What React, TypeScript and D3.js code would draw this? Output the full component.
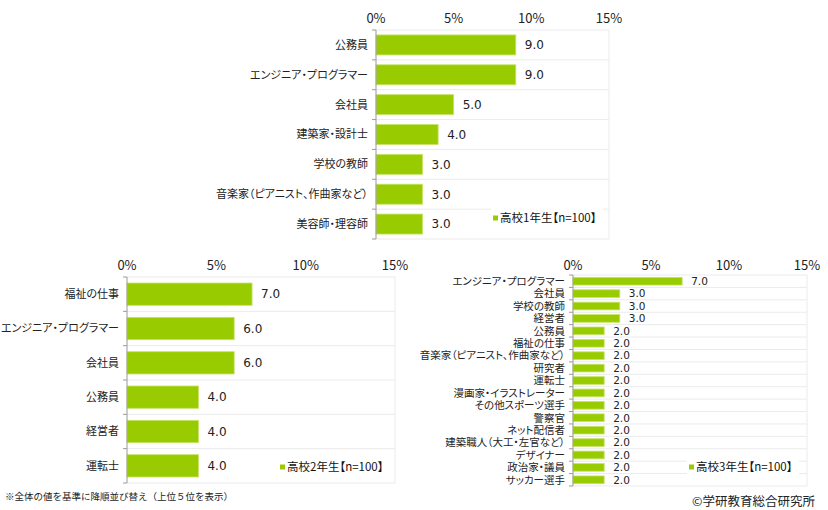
import React from 'react';
import * as d3 from 'd3';

// data
const ticks = [0, 5, 10, 15];

const grade1Categories = [
    '公務員',
    'エンジニア・プログラマー',
    '会社員',
    '建築家・設計士',
    '学校の教師',
    '音楽家（ピアニスト、作曲家など）',
    '美容師・理容師',
];
const grade1Values = [9.0, 9.0, 5.0, 4.0, 3.0, 3.0, 3.0];

const grade2Categories = [
    '福祉の仕事',
    'エンジニア・プログラマー',
    '会社員',
    '公務員',
    '経営者',
    '運転士',
];
const grade2Values = [7.0, 6.0, 6.0, 4.0, 4.0, 4.0];

const grade3Categories = [
    'エンジニア・プログラマー',
    '会社員',
    '学校の教師',
    '経営者',
    '公務員',
    '福祉の仕事',
    '音楽家（ピアニスト、作曲家など）',
    '研究者',
    '運転士',
    '漫画家・イラストレーター',
    'その他スポーツ選手',
    '警察官',
    'ネット配信者',
    '建築職人（大工・左官など）',
    'デザイナー',
    '政治家・議員',
    'サッカー選手',
];
const grade3Values = [7.0, 3.0, 3.0, 3.0, 2.0, 2.0, 2.0, 2.0, 2.0, 2.0, 2.0, 2.0, 2.0, 2.0, 2.0, 2.0, 2.0];

const BAR = '#99cc00';
const FONT = '"Noto Sans CJK JP", "Noto Sans", sans-serif';
const NUM_FONT = '"DejaVu Sans", sans-serif';
const PALT = { fontFeatureSettings: '"palt"' };

interface PanelProps {
    categories: string[];
    values: number[];
    legend: string;
    x0: number;
    x1: number;
    top: number;
    bottom: number;
    tickY: number;
    labelSize: number;
    valueSize: number;
    barRatio: number;
    legendX: number;
    legendY: number;
    legendW: number;
}

const Panel: React.FC<PanelProps> = ({
    categories,
    values,
    legend,
    x0,
    x1,
    top,
    bottom,
    tickY,
    labelSize,
    valueSize,
    barRatio,
    legendX,
    legendY,
    legendW,
}) => {
    const x = d3.scaleLinear().domain([0, 15]).range([x0, x1]);
    const pad = 1 - barRatio;
    const y = d3
        .scaleBand<string>()
        .domain(categories)
        .range([top, bottom])
        .paddingInner(pad)
        .paddingOuter(pad / 2);
    const step = y.step();
    const bounds = d3.range(categories.length + 1).map((i) => top + i * step);

    return (
        <g fontFamily={FONT} style={PALT}>
            {/* frame + grid */}
            {bounds.map((b, i) => (
                <line key={'g' + i} x1={x0} x2={x1} y1={b} y2={b} stroke="#ebebeb" />
            ))}
            <line x1={x1} x2={x1} y1={top} y2={bottom} stroke="#ebebeb" />
            {/* legend box */}
            <rect x={legendX - 2} y={legendY - 11} width={legendW} height={22} fill="#fff" />
            {categories.map((c, i) => (
                <g key={c}>
                    <rect
                        x={x(0)}
                        y={y(c)!}
                        width={x(values[i]) - x(0)}
                        height={y.bandwidth()}
                        fill={BAR}
                        stroke="#c6e36b"
                        strokeWidth={0.8}
                    />
                    <text
                        x={x0 - 8}
                        y={y(c)! + y.bandwidth() / 2}
                        dy="0.36em"
                        textAnchor="end"
                        fontSize={labelSize}
                        fill="#222"
                    >
                        {c}
                    </text>
                    <text
                        x={x(values[i]) + 9}
                        y={y(c)! + y.bandwidth() / 2}
                        dy="0.36em"
                        fontFamily={NUM_FONT}
                        fontSize={valueSize}
                        fill="#222"
                    >
                        {values[i].toFixed(1)}
                    </text>
                </g>
            ))}
            {/* left axis */}
            <line x1={x0} x2={x0} y1={top} y2={bottom} stroke="#9a9a9a" />
            {bounds.map((b, i) => (
                <line key={'t' + i} x1={x0 - 4} x2={x0} y1={b} y2={b} stroke="#9a9a9a" />
            ))}
            {ticks.map((t) => (
                <text
                    key={t}
                    x={x(t)}
                    y={tickY}
                    dy="0.36em"
                    textAnchor="middle"
                    fontSize={13}
                    fill="#222"
                >
                    {t}%
                </text>
            ))}
            <rect x={legendX} y={legendY - 2.5} width={5} height={5} fill={BAR} />
            <text x={legendX + 7} y={legendY} dy="0.36em" fontSize={11.5} fill="#111">
                {legend}
            </text>
        </g>
    );
};

const App: React.FC = () => {
    return (
        <div style={{ position: 'absolute', left: 0, top: 0 }}>
            <svg width={828} height={510} viewBox="0 0 828 510" style={{ display: 'block', background: '#fff' }}>
                <Panel
                    categories={grade1Categories}
                    values={grade1Values}
                    legend="高校1年生【n=100】"
                    x0={376}
                    x1={609}
                    top={30}
                    bottom={239}
                    tickY={18}
                    labelSize={11}
                    valueSize={12}
                    barRatio={0.67}
                    legendX={493}
                    legendY={218}
                    legendW={112}
                />
                <Panel
                    categories={grade2Categories}
                    values={grade2Values}
                    legend="高校2年生【n=100】"
                    x0={127}
                    x1={395}
                    top={277}
                    bottom={483}
                    tickY={265}
                    labelSize={11}
                    valueSize={12}
                    barRatio={0.65}
                    legendX={280}
                    legendY={467}
                    legendW={112}
                />
                <Panel
                    categories={grade3Categories}
                    values={grade3Values}
                    legend="高校3年生【n=100】"
                    x0={573}
                    x1={807}
                    top={275}
                    bottom={486}
                    tickY={265}
                    labelSize={10.5}
                    valueSize={10.5}
                    barRatio={0.62}
                    legendX={689}
                    legendY={467}
                    legendW={112}
                />
                <text x={5} y={497} dy="0.36em" fontFamily={FONT} fontSize={9.5} fill="#222">
                    ※全体の値を基準に降順並び替え（上位５位を表示）
                </text>
                <text
                    x={815}
                    y={501}
                    dy="0.36em"
                    textAnchor="end"
                    fontFamily={FONT}
                    fontSize={12.5}
                    fill="#222"
                >
                    ©学研教育総合研究所
                </text>
            </svg>
        </div>
    );
};

export default App;
